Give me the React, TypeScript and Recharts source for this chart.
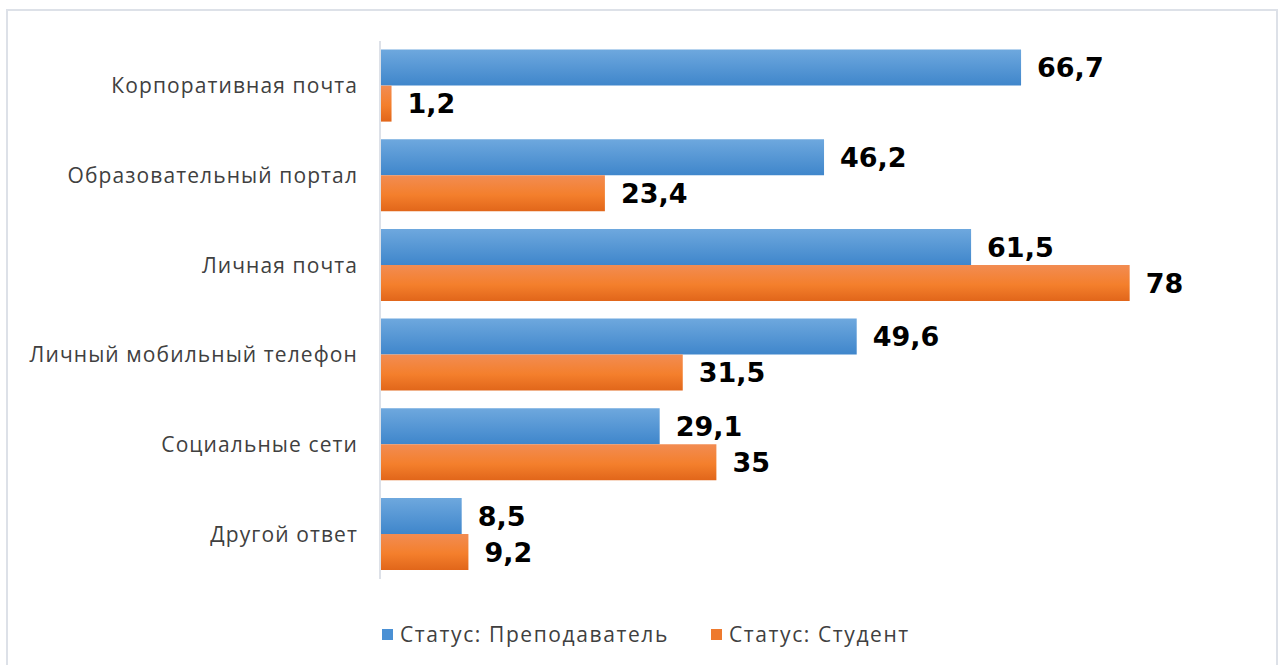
import React from "react";
import { BarChart, Bar, XAxis, YAxis, Legend, LabelList } from "recharts";

const categories = [
  "Корпоративная почта",
  "Образовательный портал",
  "Личная почта",
  "Личный мобильный телефон",
  "Социальные сети",
  "Другой ответ",
];
const teacherValues = [66.7, 46.2, 61.5, 49.6, 29.1, 8.5];
const studentValues = [1.2, 23.4, 78, 31.5, 35, 9.2];
const seriesNames = ["Статус: Преподаватель", "Статус: Студент"];
const legendColors = ["#4a90d4", "#ee7a2e"];

const data = categories.map((name, i) => ({
  name,
  teacher: teacherValues[i],
  student: studentValues[i],
}));

const fmt = (v: any) => String(v).replace(".", ",");

const renderLegend = (props: any) => {
  const { payload } = props;
  return (
    <div
      style={{
        display: "flex",
        alignItems: "center",
        fontFamily: "Open Sans",
        fontSize: 21,
        letterSpacing: 1.6,
        color: "#404040",
        whiteSpace: "nowrap",
      }}
    >
      {payload.map((p: any, i: number) => (
        <span key={i} style={{ display: "flex", alignItems: "center", marginRight: 42 }}>
          <span
            style={{ width: 11, height: 11, background: legendColors[i], marginRight: 7, display: "inline-block" }}
          />
          {p.value}
        </span>
      ))}
    </div>
  );
};

const labelStyle = { fill: "#000", fontSize: 27, fontWeight: "bold", fontFamily: "DejaVu Sans" };

export default function App() {
  return (
    <div style={{ position: "absolute", left: 0, top: 0, width: 1280, height: 665, background: "#fff", overflow: "hidden" }}>
      <div
        style={{
          position: "absolute",
          left: 6,
          top: 9,
          width: 1268,
          height: 700,
          border: "2px solid #dde1e8",
        }}
      />
      <div style={{ position: "absolute", left: 0, top: 0 }}>
        <BarChart
          width={1280}
          height={665}
          data={data}
          layout="vertical"
          margin={{ top: 41, right: 35, bottom: 86, left: 0 }}
          barCategoryGap="9.6%"
          barGap={0}
        >
          <defs>
            <linearGradient id="gBlue" x1="0" y1="0" x2="0" y2="1">
              <stop offset="0%" stopColor="#6ea8de" />
              <stop offset="100%" stopColor="#3f86cb" />
            </linearGradient>
            <linearGradient id="gOrange" x1="0" y1="0" x2="0" y2="1">
              <stop offset="0%" stopColor="#f28c52" />
              <stop offset="55%" stopColor="#f47f2c" />
              <stop offset="100%" stopColor="#e1661a" />
            </linearGradient>
          </defs>
          <XAxis type="number" domain={[0, 90]} hide />
          <YAxis
            type="category"
            dataKey="name"
            width={380}
            axisLine={{ stroke: "#dde1e8", strokeWidth: 2 }}
            tickLine={false}
            tickSize={0}
            tickMargin={22}
            tick={{ fill: "#404040", fontSize: 21, fontFamily: "Open Sans", letterSpacing: 1.1 }}
          />
          <Legend
            verticalAlign="middle"
            content={renderLegend}
            wrapperStyle={{ position: "absolute", top: 620, left: 382, width: "auto" }}
          />
          <Bar dataKey="teacher" name={seriesNames[0]} fill="url(#gBlue)" isAnimationActive={false}>
            <LabelList dataKey="teacher" position="right" offset={16} formatter={fmt} style={labelStyle} />
          </Bar>
          <Bar dataKey="student" name={seriesNames[1]} fill="url(#gOrange)" isAnimationActive={false}>
            <LabelList dataKey="student" position="right" offset={16} formatter={fmt} style={labelStyle} />
          </Bar>
        </BarChart>
      </div>
    </div>
  );
}
